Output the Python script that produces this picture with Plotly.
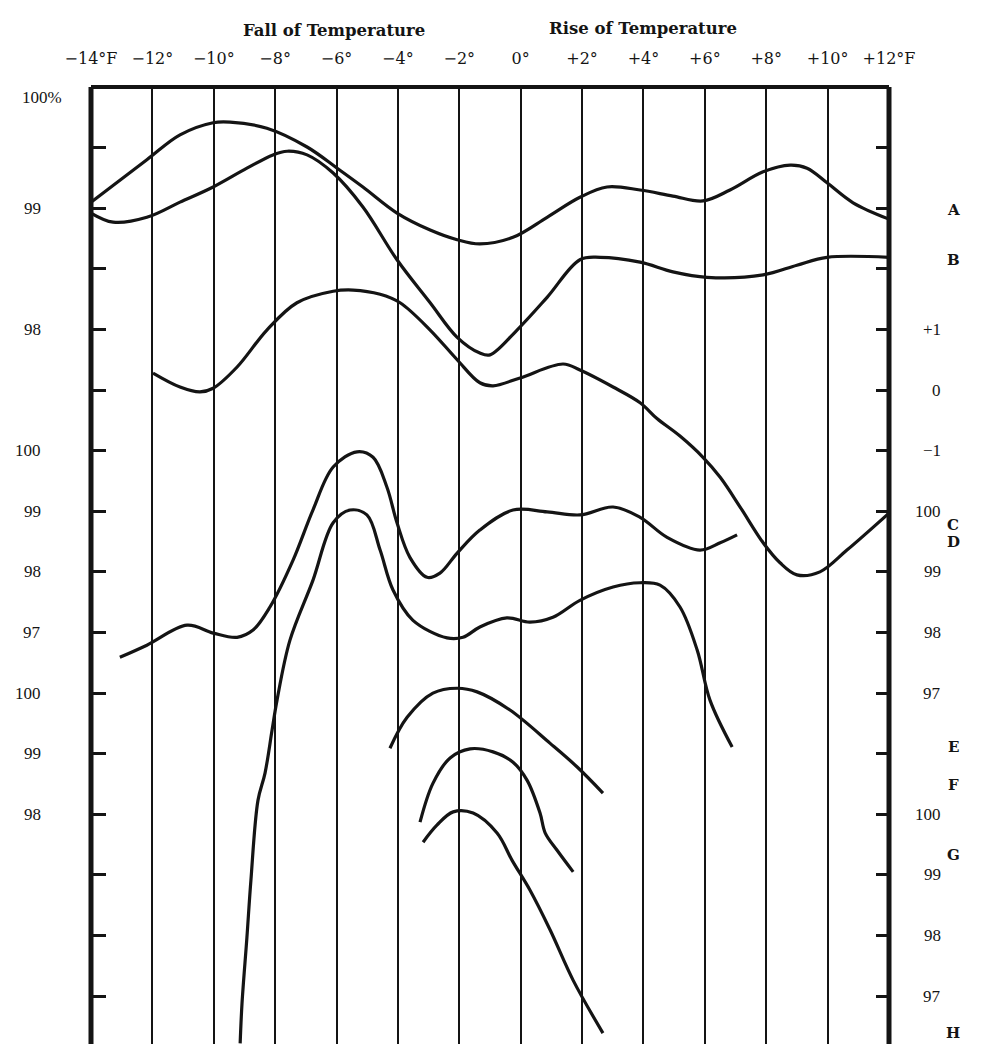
import plotly.graph_objects as go

# ---- axis labels ----
temp_ticks = [-14, -12, -10, -8, -6, -4, -2, 0, 2, 4, 6, 8, 10, 12]
temp_labels = ["−14°F", "−12°", "−10°", "−8°", "−6°", "−4°", "−2°", "0°",
               "+2°", "+4°", "+6°", "+8°", "+10°", "+12°F"]
division_ticks = list(range(0, 17))

left_label_pos = [0.18, 2, 4, 6, 7, 8, 9, 10, 11, 12]
left_labels = ["100%", "99", "98", "100", "99", "98", "97", "100", "99", "98"]

right_num_pos = [4, 5, 6, 7, 8, 9, 10, 12, 13, 14, 15]
right_nums = ["+1", "0", "−1", "100", "99", "98", "97", "100", "99", "98", "97"]

letter_pos = [2.03, 2.85, 7.23, 7.51, 10.89, 11.52, 12.67, 15.61]
letters = ["A", "B", "C", "D", "E", "F", "G", "H"]

# ---- curves: temperature change (°F) vs chart position (divisions below 100%) ----
temp_A = [-14.0, -12.18, -11.10, -10.02, -9.47, -8.27, -6.96, -5.98, -5.14, -4.03, -2.95,
          -2.07, -1.33, -0.25, 0.86, 1.93, 2.81, 3.89, 4.96, 5.94, 6.82, 7.90, 8.78,
          9.33, 9.98, 10.83, 12.0]
pos_A = [1.90, 1.20, 0.79, 0.59, 0.58, 0.68, 0.99, 1.34, 1.65, 2.08, 2.36,
         2.52, 2.59, 2.48, 2.15, 1.82, 1.65, 1.70, 1.80, 1.88, 1.70, 1.40, 1.29,
         1.34, 1.58, 1.91, 2.18]

temp_B = [-14.0, -13.28, -12.18, -11.10, -10.02, -8.92, -8.07, -7.61, -6.96, -6.11, -5.14,
          -4.03, -2.95, -2.07, -1.33, -1.0, -0.12, 0.86, 1.93, 2.59, 3.89, 4.96, 6.07,
          7.90, 9.00, 9.98, 12.0]
pos_B = [2.08, 2.23, 2.15, 1.90, 1.65, 1.34, 1.12, 1.06, 1.12, 1.42, 1.98,
         2.85, 3.56, 4.13, 4.39, 4.42, 4.01, 3.47, 2.85, 2.81, 2.89, 3.05, 3.14,
         3.10, 2.94, 2.81, 2.81]

temp_C = [-11.98, -11.10, -10.45, -10.02, -9.24, -8.27, -7.29, -6.11, -5.46, -4.58, -3.93,
          -2.95, -2.07, -1.33, -0.90, -0.02, 1.38, 1.93, 3.01, 3.89, 4.44, 5.19, 5.94,
          6.50, 7.15, 7.90, 8.45, 9.00, 9.75, 10.63, 12.0]
pos_C = [4.72, 4.95, 5.03, 4.97, 4.62, 4.01, 3.56, 3.37, 3.35, 3.42, 3.56,
         4.01, 4.50, 4.88, 4.93, 4.80, 4.57, 4.67, 4.95, 5.21, 5.47, 5.76, 6.11,
         6.44, 6.93, 7.52, 7.85, 8.05, 8.00, 7.64, 7.03]

temp_D = [-13.06, -12.18, -10.87, -10.02, -9.24, -8.72, -8.17, -7.42, -6.77, -6.11, -5.33,
          -4.81, -4.36, -4.03, -3.61, -3.05, -2.63, -2.07, -1.33, -0.25, 0.86, 1.93,
          3.01, 3.89, 4.77, 5.84, 6.50, 7.05]
pos_D = [9.41, 9.21, 8.88, 9.01, 9.08, 8.96, 8.58, 7.81, 6.98, 6.27, 6.02,
         6.11, 6.60, 7.19, 7.76, 8.09, 8.02, 7.69, 7.31, 6.98, 7.01, 7.06,
         6.93, 7.10, 7.43, 7.64, 7.52, 7.39]

temp_E = [-9.14, -9.08, -8.92, -8.79, -8.56, -8.33, -8.10, -7.94, -7.52, -6.77, -6.11, -5.56,
          -5.01, -4.58, -4.16, -3.51, -2.40, -1.88, -1.33, -0.45, 0.30, 1.05, 1.93,
          3.01, 3.89, 4.54, 5.19, 5.75, 6.17, 6.89]
pos_E = [15.78, 15.12, 14.03, 13.09, 11.77, 11.32, 10.61, 10.12, 9.13, 8.14, 7.19, 6.98,
         7.06, 7.64, 8.30, 8.80, 9.09, 9.08, 8.91, 8.76, 8.83, 8.75, 8.47,
         8.25, 8.18, 8.22, 8.58, 9.29, 10.12, 10.89]

temp_F = [-4.26, -3.70, -2.86, -2.07, -1.42, -0.35, 0.96, 1.84, 2.68]
pos_F = [10.91, 10.40, 10.00, 9.92, 9.98, 10.28, 10.83, 11.22, 11.65]

temp_G = [-3.28, -2.86, -2.30, -1.65, -0.90, -0.25, 0.21, 0.63, 0.80, 1.18, 1.71]
pos_G = [12.13, 11.49, 11.07, 10.92, 10.97, 11.14, 11.44, 11.98, 12.31, 12.59, 12.95]

temp_H = [-3.18, -2.73, -2.20, -1.55, -0.77, -0.28, 0.30, 0.96, 1.71, 2.68]
pos_H = [12.46, 12.18, 11.96, 11.98, 12.31, 12.76, 13.25, 13.91, 14.74, 15.61]

curves = [("A", temp_A, pos_A), ("B", temp_B, pos_B), ("C", temp_C, pos_C),
          ("D", temp_D, pos_D), ("E", temp_E, pos_E), ("F", temp_F, pos_F),
          ("G", temp_G, pos_G), ("H", temp_H, pos_H)]

# ---- layout constants ----
W, H = 993, 1044
ML, MR, MT, MB = 91, 104, 87, 0
PW = W - ML - MR
Y_BOTTOM = 15.79
INK = "#141414"
SERIF = "DejaVu Serif, Liberation Serif, serif"
TIMES = "Liberation Serif, DejaVu Serif, serif"

def px_to_paper_x(px):
    return (px - ML) / PW

fig = go.Figure()
for name, xs, ys in curves:
    fig.add_trace(go.Scatter(x=xs, y=ys, mode="lines", name=name,
                             line=dict(color=INK, width=3.2, shape="spline", smoothing=1.0),
                             showlegend=False, hoverinfo="skip"))
# invisible trace for the right axis
fig.add_trace(go.Scatter(x=[None], y=[None], yaxis="y2", showlegend=False, hoverinfo="skip"))

annotations = []
annotations.append(dict(text="<b>Fall of Temperature</b>", xref="paper", yref="paper",
                        x=px_to_paper_x(241), y=1, yanchor="middle", yshift=57, showarrow=False,
                        font=dict(family=SERIF, size=16.5, color=INK)))
annotations.append(dict(text="<b>Rise of Temperature</b>", xref="paper", yref="paper",
                        x=px_to_paper_x(739), y=1, yanchor="middle", yshift=59, showarrow=False,
                        font=dict(family=SERIF, size=16.5, color=INK)))
for lab, pos in zip(left_labels, left_label_pos):
    if lab.endswith("%"):
        annotations.append(dict(text=lab, xref="paper", yref="y", x=px_to_paper_x(20), y=pos,
                                xanchor="left", showarrow=False,
                                font=dict(family=TIMES, size=17, color=INK)))
    else:
        annotations.append(dict(text=lab, xref="paper", yref="y", x=px_to_paper_x(43), y=pos,
                                xanchor="right", showarrow=False,
                                font=dict(family=TIMES, size=17, color=INK)))
for lab, pos in zip(right_nums, right_num_pos):
    annotations.append(dict(text=lab, xref="paper", yref="y", x=px_to_paper_x(943), y=pos,
                            xanchor="right", showarrow=False,
                            font=dict(family=TIMES, size=17, color=INK)))
for lab, pos in zip(letters, letter_pos):
    annotations.append(dict(text="<b>" + lab + "</b>", xref="paper", yref="y",
                            x=px_to_paper_x(953), y=pos, xanchor="center", showarrow=False,
                            font=dict(family=SERIF, size=15, color=INK)))

shapes = [
    dict(type="line", xref="paper", yref="paper", x0=0, x1=0, y0=0, y1=1,
         line=dict(color=INK, width=5), layer="above"),
    dict(type="line", xref="paper", yref="paper", x0=1, x1=1, y0=0, y1=1,
         line=dict(color=INK, width=5), layer="above"),
    dict(type="line", xref="paper", yref="paper", x0=0, x1=1, y0=1, y1=1,
         line=dict(color=INK, width=4), layer="above"),
]

fig.update_layout(
    width=W, height=H,
    margin=dict(l=ML, r=MR, t=MT, b=MB),
    paper_bgcolor="white", plot_bgcolor="white",
    xaxis=dict(range=[-14, 12], side="top", tickvals=temp_ticks, ticktext=temp_labels,
               showgrid=True, gridcolor=INK, gridwidth=2.4, zeroline=False, showline=False,
               ticks="outside", ticklen=16, tickcolor="rgba(0,0,0,0)",
               tickfont=dict(family=SERIF, size=16, color=INK), fixedrange=True),
    yaxis=dict(range=[Y_BOTTOM, 0], tickvals=division_ticks, showticklabels=False,
               ticks="inside", ticklen=15, tickwidth=3, tickcolor=INK,
               showgrid=False, zeroline=False, showline=False, fixedrange=True),
    yaxis2=dict(range=[Y_BOTTOM, 0], overlaying="y", side="right", tickvals=division_ticks,
                showticklabels=False, ticks="inside", ticklen=13, tickwidth=3, tickcolor=INK,
                showgrid=False, zeroline=False, showline=False, fixedrange=True),
    annotations=annotations,
    shapes=shapes,
)

fig.write_html("out.html")
